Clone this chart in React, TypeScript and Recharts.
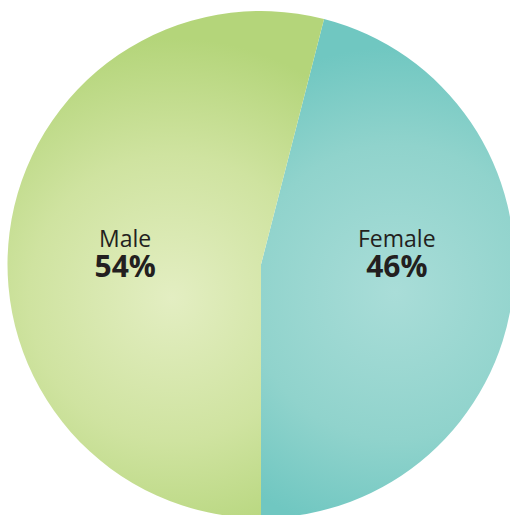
import React from 'react';
import { PieChart, Pie, Cell } from 'recharts';

const categories = ['Female', 'Male'];
const values = [46, 54];
const percentLabels = ['46%', '54%'];

const data = categories.map((name, i) => ({ name, value: values[i], pct: percentLabels[i] }));

const RAD = Math.PI / 180;

const renderLabel = (props: any) => {
  const { cx, cy, midAngle, outerRadius, index } = props;
  const r = outerRadius * 0.54;
  const x = cx + r * Math.cos(-midAngle * RAD);
  return (
    <g>
      <text
        x={x}
        y={cy - 18}
        textAnchor="middle"
        fontFamily="'Open Sans', sans-serif"
        fontSize={23}
        fill="#231f20"
      >
        {data[index].name}
      </text>
      <text
        x={x}
        y={cy + 12.5}
        textAnchor="middle"
        fontFamily="'Open Sans', sans-serif"
        fontSize={30}
        fontWeight={700}
        fill="#231f20"
      >
        {data[index].pct}
      </text>
    </g>
  );
};

export default function App() {
  return (
    <div style={{ position: 'absolute', left: 0, top: 0, width: 510, height: 515, background: '#fff' }}>
      <PieChart width={510} height={515} margin={{ top: 0, right: 0, bottom: 0, left: 0 }}>
        <defs>
          <radialGradient id="gradFemale" gradientUnits="userSpaceOnUse" cx={395} cy={292} r={245}>
            <stop offset="0%" stopColor="#a9ddd8" />
            <stop offset="60%" stopColor="#90d3cc" />
            <stop offset="100%" stopColor="#70c7c1" />
          </radialGradient>
          <radialGradient id="gradMale" gradientUnits="userSpaceOnUse" cx={172} cy={298} r={260}>
            <stop offset="0%" stopColor="#e3eec2" />
            <stop offset="55%" stopColor="#cfe3a0" />
            <stop offset="100%" stopColor="#b4d57a" />
          </radialGradient>
        </defs>
        <Pie
          data={data}
          dataKey="value"
          nameKey="name"
          cx={261}
          cy={264.5}
          innerRadius={0}
          outerRadius={253.5}
          startAngle={-90}
          endAngle={270}
          stroke="none"
          label={renderLabel}
          labelLine={false}
          isAnimationActive={false}
        >
          <Cell fill="url(#gradFemale)" />
          <Cell fill="url(#gradMale)" />
        </Pie>
      </PieChart>
    </div>
  );
}
